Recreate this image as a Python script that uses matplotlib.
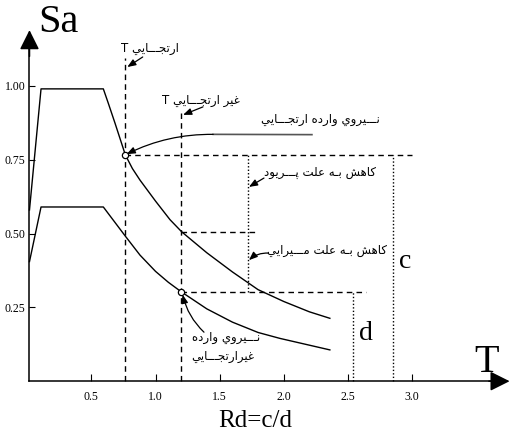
import matplotlib
matplotlib.use("Agg")
import matplotlib.pyplot as plt

plt.rcParams["font.family"] = ["Liberation Serif", "DejaVu Sans"]

# spectrum curves (T in s, Sa)
t_upper = [0.017, 0.107, 0.593, 0.632, 0.684, 0.765, 0.82, 0.879, 1.0, 1.113, 1.204, 1.4, 1.6, 1.8, 2.0, 2.2, 2.36]
sa_upper = [0.58, 0.99, 0.99, 0.941, 0.874, 0.766, 0.72, 0.681, 0.61, 0.547, 0.506, 0.435, 0.37, 0.31, 0.27, 0.235, 0.213]
t_lower = [0.017, 0.107, 0.593, 0.765, 0.879, 1.0, 1.1, 1.2, 1.4, 1.6, 1.8, 1.97, 2.2, 2.36]
sa_lower = [0.405, 0.59, 0.59, 0.491, 0.427, 0.372, 0.335, 0.303, 0.245, 0.2, 0.165, 0.145, 0.122, 0.106]

# key periods / levels
t_elastic, sa_elastic = 0.765, 0.766
t_inelastic, sa_inelastic = 1.20, 0.303
sa_mid = 0.506
t_mid_end = 1.80
t_elastic_top, t_inelastic_top = 1.094, 0.908
t_period_red = 1.724
t_d, t_c = 2.544, 2.856
t_c_end, t_d_end = 3.0, 2.64

x_ticks = [0.5, 1.0, 1.5, 2.0, 2.5, 3.0]
x_labels = ["0.5", "1.0", "1.5", "2.0", "2.5", "3.0"]
y_ticks = [0.25, 0.50, 0.75, 1.00]
y_labels = ["0.25", "0.50", "0.75", "1.00"]

# minimal Arabic/Persian shaping (presentation forms), output in visual order
TATWEEL = "\u0640"
FORMS = {
    "ا": (0xFE8D, 0xFE8E, None, None),
    "ب": (0xFE8F, 0xFE90, 0xFE91, 0xFE92),
    "پ": (0xFB56, 0xFB57, 0xFB58, 0xFB59),
    "ت": (0xFE95, 0xFE96, 0xFE97, 0xFE98),
    "ج": (0xFE9D, 0xFE9E, 0xFE9F, 0xFEA0),
    "د": (0xFEA9, 0xFEAA, None, None),
    "ر": (0xFEAD, 0xFEAE, None, None),
    "ش": (0xFEB5, 0xFEB6, 0xFEB7, 0xFEB8),
    "ع": (0xFEC9, 0xFECA, 0xFECB, 0xFECC),
    "غ": (0xFECD, 0xFECE, 0xFECF, 0xFED0),
    "ک": (0xFB8E, 0xFB8F, 0xFB90, 0xFB91),
    "ل": (0xFEDD, 0xFEDE, 0xFEDF, 0xFEE0),
    "م": (0xFEE1, 0xFEE2, 0xFEE3, 0xFEE4),
    "ن": (0xFEE5, 0xFEE6, 0xFEE7, 0xFEE8),
    "ه": (0xFEE9, 0xFEEA, 0xFEEB, 0xFEEC),
    "و": (0xFEED, 0xFEEE, None, None),
    "ي": (0xFEF1, 0xFEF2, 0xFEF3, 0xFEF4),
}


def joins_forward(c):
    return c == TATWEEL or (c in FORMS and FORMS[c][2] is not None)


def joinable(c):
    return c == TATWEEL or c in FORMS


def rtl(s):
    out = []
    for i, c in enumerate(s):
        if c not in FORMS:
            out.append(c)
            continue
        prev = s[i - 1] if i > 0 else ""
        nxt = s[i + 1] if i + 1 < len(s) else ""
        p = joins_forward(prev)
        n = FORMS[c][2] is not None and joinable(nxt)
        iso, fin, ini, med = FORMS[c]
        g = med if (p and n) else fin if p else ini if n else iso
        out.append(chr(g))
    return "".join(reversed(out))


AR = ["DejaVu Sans"]
ar_size = 8.5

fig = plt.figure(figsize=(5.1, 4.36), dpi=100)
ax = fig.add_axes([0, 0, 1, 1])
ax.set_xlim(-0.213, 3.765)
ax.set_ylim(-0.1856, 1.291)

for side in ["top", "right"]:
    ax.spines[side].set_visible(False)
ax.spines["left"].set_position(("data", 0.017))
ax.spines["left"].set_bounds(0, 1.15)
ax.spines["bottom"].set_position(("data", 0))
ax.spines["bottom"].set_bounds(0.017, 3.7)
ax.spines["left"].set_linewidth(1.1)
ax.spines["bottom"].set_linewidth(1.1)
ax.patch.set_visible(False)

ax.set_xticks(x_ticks, x_labels)
ax.set_yticks(y_ticks, y_labels)
ax.tick_params(axis="x", direction="in", length=5, width=0.8, labelsize=8.5, pad=7)
ax.tick_params(axis="y", direction="in", length=4, width=0.8, labelsize=8.5, pad=3)

head = dict(arrowstyle="-|>,head_length=1.2,head_width=0.6", color="k", lw=1.1,
            shrinkA=0, shrinkB=0)
ax.annotate("", xy=(0.017, 1.189), xytext=(0.017, 1.1), arrowprops=head)
ax.annotate("", xy=(3.762, 0), xytext=(3.6, 0), arrowprops=head)

# spectra
ax.plot(t_upper, sa_upper, color="k", lw=1.0)
ax.plot(t_lower, sa_lower, color="k", lw=1.0)

dash = dict(color="k", lw=1.0, ls=(0, (4, 3)))
ax.plot([t_elastic, t_elastic], [0, t_elastic_top], **dash)
ax.plot([t_inelastic, t_inelastic], [0, t_inelastic_top], **dash)
ax.plot([t_elastic, t_c_end], [sa_elastic, sa_elastic], **dash)
ax.plot([t_inelastic, t_mid_end], [sa_mid, sa_mid], **dash)
ax.plot([t_inelastic, t_d_end], [sa_inelastic, sa_inelastic], **dash)

dot = dict(color="k", lw=1.0, ls=(0, (1, 1.5)))
ax.plot([t_c, t_c], [0, sa_elastic], **dot)
ax.plot([t_d, t_d], [0, sa_inelastic], **dot)
ax.plot([t_period_red, t_period_red], [sa_inelastic, sa_elastic], **dot)

ax.plot([t_elastic, t_inelastic], [sa_elastic, sa_inelastic], ls="none", marker="o",
        ms=4.5, mfc="white", mec="k", mew=0.9, zorder=5)

small = dict(arrowstyle="-|>,head_length=0.5,head_width=0.2", color="k", lw=0.9,
             shrinkA=0, shrinkB=0)

# labels with leaders
ax.text(0.957, 1.128, "T " + rtl("ارتجـــايي"), family=AR, fontsize=ar_size,
        ha="center", va="center")
ax.annotate("", xy=(t_elastic + 0.015, 1.064), xytext=(0.90, 1.098), arrowprops=small)

ax.text(1.355, 0.952, "T " + rtl("غير ارتجـــايي"), family=AR, fontsize=ar_size,
        ha="center", va="center")
ax.annotate("", xy=(t_inelastic + 0.015, 0.902), xytext=(1.37, 0.929), arrowprops=small)

ax.text(2.29, 0.885, rtl("نـــيروي وارده ارتجـــايي"), family=AR, fontsize=ar_size,
        ha="center", va="center")
ax.plot([1.45, 2.22], [0.836, 0.835], color="#555555", lw=1.2)
ax.annotate("", xy=(t_elastic + 0.01, sa_elastic + 0.003), xytext=(1.45, 0.836),
            arrowprops=dict(small, connectionstyle="arc3,rad=0.12"))

ax.text(2.283, 0.708, rtl("کاهش بـه علت پـــريود"), family=AR, fontsize=ar_size,
        ha="center", va="center")
ax.annotate("", xy=(t_period_red + 0.005, 0.658), xytext=(1.846, 0.688), arrowprops=small)

ax.text(2.34, 0.441, rtl("کاهش بـه علت مـــيرايي"), family=AR, fontsize=ar_size,
        ha="center", va="center")
ax.annotate("", xy=(t_period_red + 0.005, 0.41), xytext=(1.88, 0.434),
            arrowprops=dict(small, connectionstyle="arc3,rad=0.2"))

ax.text(1.55, 0.147, rtl("نـــيروي وارده"), family=AR, fontsize=ar_size,
        ha="center", va="center")
ax.text(1.527, 0.0826, rtl("غيرارتجـــايي"), family=AR, fontsize=ar_size,
        ha="center", va="center")
ax.annotate("", xy=(t_inelastic + 0.012, sa_inelastic - 0.01), xytext=(1.378, 0.166),
            arrowprops=dict(small, connectionstyle="arc3,rad=-0.15"))

# axis titles and symbols
ax.text(0.24, 1.216, "Sa", fontsize=29, ha="center", va="center")
ax.text(3.586, 0.065, "T", fontsize=29, ha="center", va="center")
ax.text(2.946, 0.404, "c", fontsize=20, ha="center", va="center")
ax.text(2.642, 0.163, "d", fontsize=20, ha="center", va="center")
ax.text(1.776, -0.134, "Rd=c/d", fontsize=18, ha="center", va="center")

fig.savefig("out.png", dpi=100)
